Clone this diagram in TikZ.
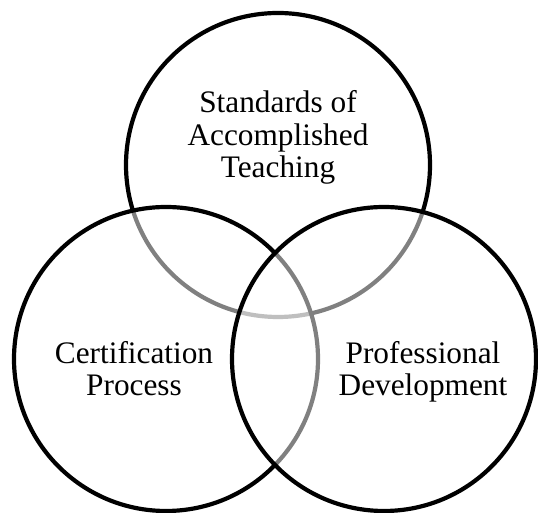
\documentclass[tikz,border=0pt]{standalone}
\usepackage{fontspec}
\setmainfont{Liberation Serif}
\begin{document}
\begin{tikzpicture}[x=1pt,y=1pt,
  venn/.style={draw=black,line width=4.2pt,fill=white,fill opacity=0.5,circle,minimum size=304pt,inner sep=0pt},
  lbl/.style={align=center,anchor=base,inner sep=0pt,font=\fontsize{31.3}{32.5}\selectfont}]
\useasboundingbox (0,0) rectangle (538,513);
\node[venn] (top) at (278,348) {};
\node[venn] (left) at (166,154) {};
\node[venn] (right) at (384,154) {};
\node[lbl] (ttop) at (278,335) {Standards of\\Accomplished\\Teaching};
\node[lbl] (tleft) at (134,117) {Certification\\Process};
\node[lbl] (tright) at (423,117) {Professional\\Development};
\end{tikzpicture}
\end{document}
